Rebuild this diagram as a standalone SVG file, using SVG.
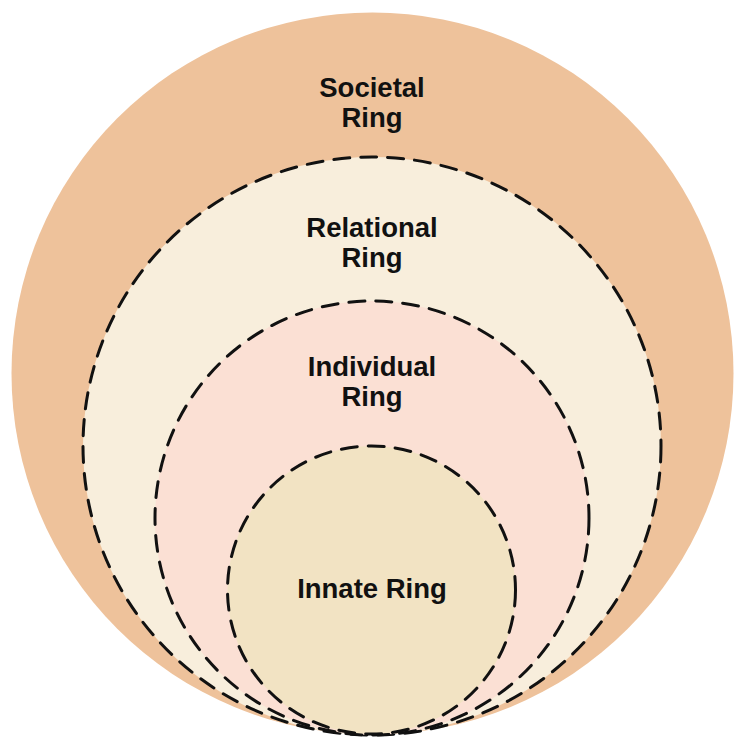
<svg xmlns="http://www.w3.org/2000/svg" width="744" height="747" viewBox="0 0 744 747">
<style>
.ring{stroke:#111;stroke-width:3;stroke-dasharray:16 11;stroke-linecap:round}
.lbl{font-family:"Liberation Sans",Arial,sans-serif;font-weight:bold;font-size:27.5px;fill:#111;text-anchor:middle}
</style>
<rect width="744" height="747" fill="#fff"/>
<g id="societal">
<circle cx="372.5" cy="373.5" r="361" fill="#EEC29B"/>
<text class="lbl" x="372" y="97">Societal</text>
<text class="lbl" x="372" y="127">Ring</text>
</g>
<g id="relational">
<circle class="ring" cx="372" cy="446" r="289" fill="#F8EEDC"/>
<text class="lbl" x="372" y="237">Relational</text>
<text class="lbl" x="372" y="267">Ring</text>
</g>
<g id="individual">
<circle class="ring" cx="372" cy="518" r="217" fill="#FBE0D4"/>
<text class="lbl" x="372" y="376">Individual</text>
<text class="lbl" x="372" y="406">Ring</text>
</g>
<g id="innate">
<circle class="ring" cx="371.5" cy="590" r="144" fill="#F2E3C3"/>
<text class="lbl" x="372" y="598">Innate Ring</text>
</g>
<g id="connectors"></g>
</svg>
